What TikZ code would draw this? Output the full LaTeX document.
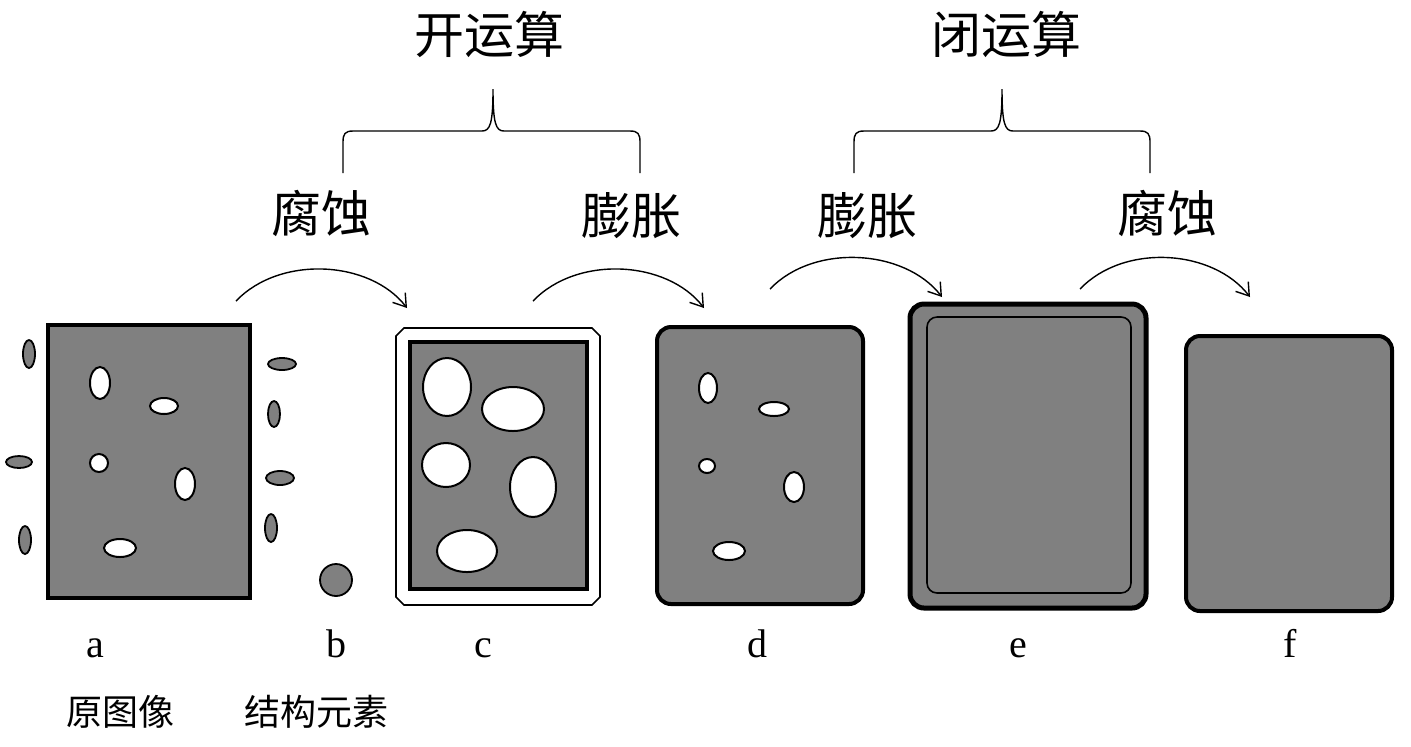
\documentclass[tikz,border=0pt]{standalone}
\usepackage{fontspec}
\setmainfont{Liberation Serif}
\newfontfamily\cjk{Noto Sans CJK SC}
\usetikzlibrary{arrows.meta}

\definecolor{imgGray}{HTML}{808080}
\tikzset{
  frame/.style = {draw=black, line width=2pt, fill=imgGray},
  roundframe/.style = {frame, rounded corners=7pt},
  hole/.style = {draw=black, line width=1pt, fill=white},
  grain/.style = {draw=black, line width=0.9pt, fill=imgGray},
  brace/.style = {draw=black, line width=0.7pt},
  opArrow/.style = {draw=black, line width=0.7pt, -{Straight Barb[length=6pt, width=8pt]}},
  opTitle/.style = {font=\cjk\fontsize{25}{30}\selectfont, inner sep=0pt},
  opName/.style = {font=\cjk\fontsize{25}{30}\selectfont, inner sep=0pt},
  panelTag/.style = {font=\fontsize{20}{24}\selectfont, inner sep=0pt, anchor=base},
  caption/.style = {font=\cjk\fontsize{18}{22}\selectfont, inner sep=0pt}
}

\begin{document}
\begin{tikzpicture}[x=0.5pt, y=-0.5pt]
\useasboundingbox (0,0) rectangle (1411,746);

% a: original image
\draw[frame] (48,325) rectangle (250,598);
\draw[hole] (100,383) ellipse (10 and 16);
\draw[hole] (164,406) ellipse (14 and 8);
\draw[hole] (99,463) ellipse (9 and 9);
\draw[hole] (185,484) ellipse (10 and 16);
\draw[hole] (120,548) ellipse (16 and 9);
\draw[grain] (29,354) ellipse (6 and 14);
\draw[grain] (19,462) ellipse (13 and 6);
\draw[grain] (25,540) ellipse (6 and 14);
\draw[grain] (282,364) ellipse (14 and 6);
\draw[grain] (274,414) ellipse (6 and 13);
\draw[grain] (280,478) ellipse (14 and 7);
\draw[grain] (271,528) ellipse (6 and 14);

% b: structuring element
\draw[grain] (336,580) circle (16);

% c: eroded
\draw[draw=black, line width=0.8pt, fill=white]
	(404,328) -- (592,328) -- (600,336) -- (600,597) --
	(592,605) -- (404,605) -- (396,597) -- (396,336) -- cycle;
\draw[frame] (410,342) rectangle (587,589);
\draw[hole] (447,387) ellipse (24 and 29);
\draw[hole] (513,409) ellipse (31 and 22);
\draw[hole] (446,465) ellipse (24 and 22);
\draw[hole] (533,487) ellipse (23 and 30);
\draw[hole] (467,551) ellipse (30 and 21);

% d: opened
\draw[roundframe] (657,327) rectangle (863,604);
\draw[hole] (708,388) ellipse (9 and 15);
\draw[hole] (774,409) ellipse (15 and 7);
\draw[hole] (707,466) ellipse (8 and 7);
\draw[hole] (794,487) ellipse (10 and 15);
\draw[hole] (729,551) ellipse (16 and 9);

% e: dilated
\draw[roundframe, line width=2.5pt] (910,304) rectangle (1146,608);
\draw[draw=black, line width=0.8pt, rounded corners=5pt] (927,317) rectangle (1131,593);

% f: closed
\draw[roundframe] (1186,336) rectangle (1392,611);

% operation arrows
\coordinate (erodeL) at (236,301);  \coordinate (erodeR) at (407,308);
\coordinate (dilateL) at (533,301); \coordinate (dilateR) at (704,308);
\coordinate (dilateL2) at (770,289); \coordinate (dilateR2) at (942,297);
\coordinate (erodeL2) at (1080,289); \coordinate (erodeR2) at (1250,297);
\draw[opArrow] (erodeL) .. controls +(44,-46) and +(-37,-48) .. (erodeR);
\draw[opArrow] (dilateL) .. controls +(44,-46) and +(-37,-48) .. (dilateR);
\draw[opArrow] (dilateL2) .. controls +(44,-46) and +(-37,-48) .. (dilateR2);
\draw[opArrow] (erodeL2) .. controls +(44,-46) and +(-37,-48) .. (erodeR2);

% braces
\draw[brace] (343,173) -- (343,142) .. controls (343,134) and (345,131) .. (353,131) --
	(482,131) .. controls (490,131) and (493,124) .. (493,89)
	.. controls (493,124) and (496,131) .. (504,131) --
	(630,131) .. controls (638,131) and (640,134) .. (640,142) -- (640,173);
\draw[brace] (854,173) -- (854,142) .. controls (854,134) and (856,131) .. (864,131) --
	(991,131) .. controls (999,131) and (1002,124) .. (1002,89)
	.. controls (1002,124) and (1005,131) .. (1013,131) --
	(1140,131) .. controls (1148,131) and (1150,134) .. (1150,142) -- (1150,173);

\node[opTitle] (opening) at (489,34) {开运算};
\node[opTitle] (closing) at (1006,34) {闭运算};
\node[opName] (erode1) at (321,213) {腐蚀};
\node[opName] (dilate1) at (631,216) {膨胀};
\node[opName] (dilate2) at (867,216) {膨胀};
\node[opName] (erode2) at (1167,213) {腐蚀};

\node[panelTag] (tagA) at (95,657) {a};
\node[panelTag] (tagB) at (336,657) {b};
\node[panelTag] (tagC) at (483,657) {c};
\node[panelTag] (tagD) at (757,657) {d};
\node[panelTag] (tagE) at (1018,657) {e};
\node[panelTag] (tagF) at (1290,657) {f};
\node[caption] (capA) at (120,712) {原图像};
\node[caption] (capB) at (316,712) {结构元素};
\end{tikzpicture}
\end{document}
